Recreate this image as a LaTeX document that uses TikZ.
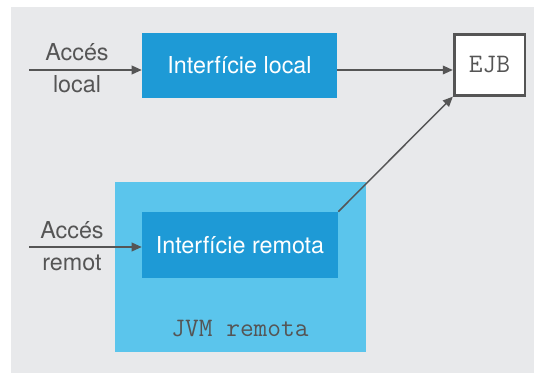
\documentclass[tikz,border=0pt]{standalone}
\usepackage{fontspec}
\setmainfont{TeX Gyre Heros}
\usetikzlibrary{arrows.meta}
\definecolor{fons}{HTML}{E8E9EB}
\definecolor{blaufort}{HTML}{1E9AD6}
\definecolor{blauclar}{HTML}{5BC5EC}
\definecolor{gristext}{HTML}{555555}
\tikzset{
  caixa/.style={rectangle, fill=blaufort, text=white, minimum width=146.25pt, minimum height=48.75pt, inner sep=0pt, font=\fontsize{17.5}{20}\selectfont},
  ejbbox/.style={rectangle, fill=white, draw=gristext, line width=2pt, minimum width=53pt, minimum height=45.5pt, inner sep=0pt, font=\ttfamily\fontsize{20}{22}\selectfont, text=gristext},
  etiq/.style={text=gristext, font=\fontsize{17.5}{20}\selectfont, inner sep=0pt},
  fletxa/.style={draw=gristext, line width=1.1pt, -{Triangle[length=7.5pt, width=6.5pt]}}
}
\begin{document}
\begin{tikzpicture}[x=0.75pt, y=-0.75pt]
            \useasboundingbox (0,0) rectangle (534,373);
            %fons
            \fill[fons] (11,7) rectangle (534,373);
            \fill[blauclar] (115,182) rectangle (366,352);
            
            %nodes
            \draw (239.5,65.5) node[caixa](local){Interfície local}
            (240,245) node[caixa, minimum width=147pt, minimum height=49.5pt](remota){Interfície remota}
            (489.5,65) node[ejbbox](ejb){EJB}
            (240,329) node[etiq, font=\ttfamily\fontsize{20}{22}\selectfont](jvm){JVM remota}
            (77,52) node[etiq](acl1){Accés}
            (77,84) node[etiq](acl2){local}
            (72,230) node[etiq](acr1){Accés}
            (72,263) node[etiq](acr2){remot};
            \coordinate (inlocal) at (29,70);
            \coordinate (inremot) at (29,247);
            
            %fletxes
            \draw[fletxa] (inlocal) -- (inlocal -| local.west);
            \draw[fletxa] (inremot) -- (inremot -| remota.west);
            \draw[fletxa] (local.east |- inlocal) -- (ejb.west |- inlocal);
            \draw[fletxa] (remota.north east) -- (ejb.south west);
        \end{tikzpicture}
\end{document}
